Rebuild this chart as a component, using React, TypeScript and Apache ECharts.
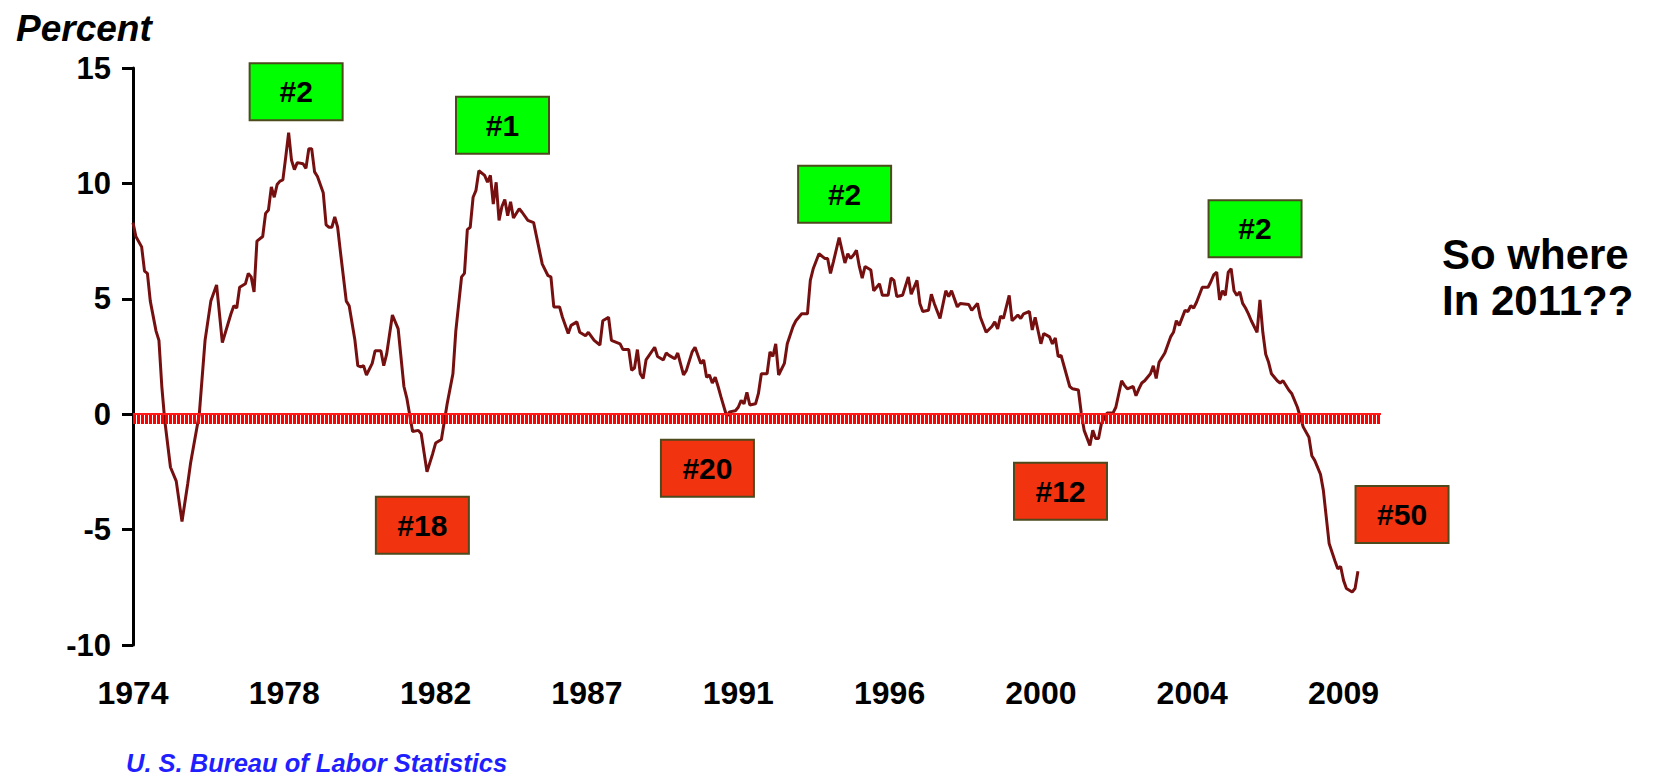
import React, { useEffect, useRef } from "react";
import * as echarts from "echarts";

// ---- axes ----
const START_YEAR = 1974; // month index 0 = Jan 1974
const X_MAX_MONTH = 433;
const X_TICK_STEP = 52.5; // months between year labels
const xTickLabels = ["1974", "1978", "1982", "1987", "1991", "1996", "2000", "2004", "2009"];
const yMin = -10;
const yMax = 15;
const yStep = 5;

// ---- series: [month index since Jan 1974, percent] ----
const growth1974to1985: [number, number][] = [
  [0, 8.3], [1, 7.7], [3, 7.25], [4, 6.2], [5, 6.1], [6, 4.9], [8, 3.6], [9, 3.2], [10, 1.2], [11, -0.25],
  [13, -2.3], [15, -2.9], [17, -4.65], [19, -3.0], [20, -2.1], [23, 0.0], [25, 3.2], [27, 4.9], [29, 5.6],
  [31, 3.1], [34, 4.35], [35, 4.7], [36, 4.6], [37, 5.5], [39, 5.65], [40, 6.1], [41, 5.95], [42, 5.3],
  [43, 7.5], [45, 7.7], [46, 8.7], [47, 8.85], [48, 9.85], [49, 9.4], [50, 9.95], [51, 10.1], [52, 10.15],
  [53, 11.15], [54, 12.2], [55, 11.0], [56, 10.6], [57, 10.9], [59, 10.85], [60, 10.65], [61, 11.5],
  [62, 11.5], [63, 10.5], [64, 10.3], [66, 9.6], [67, 8.2], [68, 8.1], [69, 8.1], [70, 8.55], [71, 8.1],
  [72, 7.0], [74, 4.9], [75, 4.7], [77, 3.2], [78, 2.1], [79, 2.05], [80, 2.1], [81, 1.7], [83, 2.2],
  [84, 2.75], [86, 2.75], [87, 2.1], [88, 2.6], [90, 4.3], [92, 3.7], [94, 1.2], [95, 0.7], [97, -0.75],
  [99, -0.7], [100, -0.85], [102, -2.5], [104, -1.7], [105, -1.25], [107, -1.1], [109, 0.45], [111, 1.75],
  [112, 3.6], [114, 5.95], [115, 6.1], [116, 8.0], [117, 8.1], [118, 9.4], [119, 9.7], [120, 10.55],
  [122, 10.35], [123, 10.05], [124, 10.35], [125, 9.1], [126, 10.05], [127, 8.4], [128, 9.0], [129, 9.3],
  [130, 8.6], [131, 9.2], [132, 8.5], [134, 8.9], [135, 8.75],
];

const growth1985to1999: [number, number][] = [
  [137, 8.4], [139, 8.3], [141, 7.1], [142, 6.5], [144, 6.0], [145, 5.95], [146, 4.65], [148, 4.65],
  [149, 4.2], [151, 3.5], [152, 3.85], [154, 4.0], [155, 3.55], [157, 3.4], [158, 3.55], [160, 3.2],
  [162, 3.0], [163, 4.05], [165, 4.2], [166, 3.2], [169, 3.05], [170, 2.8], [172, 2.8], [173, 1.9],
  [174, 2.0], [175, 2.8], [176, 1.75], [177, 1.55], [178, 2.35], [181, 2.9], [182, 2.5], [184, 2.35],
  [185, 2.65], [186, 2.55], [188, 2.4], [189, 2.65], [191, 1.7], [192, 1.9], [194, 2.7], [195, 2.9],
  [197, 2.2], [198, 2.35], [199, 1.6], [200, 1.7], [201, 1.35], [202, 1.6], [203, 1.2], [204, 0.75],
  [206, -0.1], [207, 0.1], [209, 0.15], [210, 0.3], [211, 0.6], [212, 0.45], [213, 0.95], [214, 0.4],
  [216, 0.45], [217, 0.9], [218, 1.75], [220, 1.75], [221, 2.7], [222, 2.5], [223, 3.05], [224, 1.7],
  [226, 2.2], [227, 3.05], [229, 3.8], [230, 4.05], [232, 4.35], [234, 4.35], [235, 5.8], [236, 6.3],
  [238, 6.95], [240, 6.75], [241, 6.75], [242, 6.1], [243, 6.6], [245, 7.65], [247, 6.55], [248, 6.95],
  [249, 6.75], [250, 6.9], [251, 7.1], [252, 6.4], [253, 5.9], [254, 6.4], [256, 6.25], [257, 5.35],
  [258, 5.5], [259, 5.65], [260, 5.15], [262, 5.15], [263, 5.9], [264, 5.8], [265, 5.1], [267, 5.15],
  [269, 5.95], [270, 5.2], [272, 5.8], [273, 4.8], [274, 4.45], [276, 4.5], [277, 5.2], [278, 4.8],
  [280, 4.15], [282, 5.35], [283, 5.1], [284, 5.35], [286, 4.65], [287, 4.8], [290, 4.75], [291, 4.5],
  [293, 4.8], [294, 4.2], [296, 3.55], [298, 3.8], [299, 4.0], [300, 3.7], [301, 4.25], [302, 4.15],
  [304, 5.15], [305, 4.05],
];

const growth1999to2009: [number, number][] = [
  [307, 4.3], [308, 4.15], [309, 4.35], [311, 4.45], [312, 3.65], [313, 4.2], [315, 3.05], [316, 3.5],
  [318, 3.35], [319, 3.05], [320, 3.3], [321, 2.5], [322, 2.55], [323, 2.1], [325, 1.2], [326, 1.1],
  [328, 1.05], [329, 0.05], [330, -0.7], [332, -1.35], [333, -0.7], [334, -1.05], [335, -1.05],
  [336, -0.4], [338, 0.05], [340, 0.05], [341, 0.3], [343, 1.45], [344, 1.25], [345, 1.1], [347, 1.2],
  [348, 0.8], [349, 1.1], [350, 1.35], [351, 1.45], [353, 1.75], [354, 2.1], [355, 1.55], [356, 2.25],
  [358, 2.65], [360, 3.35], [361, 3.55], [362, 4.05], [363, 3.85], [365, 4.5], [366, 4.45], [367, 4.7],
  [368, 4.6], [369, 4.85], [371, 5.5], [373, 5.5], [374, 5.75], [375, 6.05], [376, 6.15], [377, 4.95],
  [378, 5.35], [379, 5.15], [380, 6.15], [381, 6.3], [382, 5.35], [383, 5.15], [384, 5.3], [385, 4.8],
  [386, 4.6], [387, 4.35], [388, 4.05], [389, 3.8], [390, 3.55], [391, 4.95], [392, 3.55], [393, 2.6],
  [394, 2.25], [395, 1.75], [397, 1.45], [398, 1.35], [399, 1.45], [401, 1.05], [402, 0.9], [404, 0.3],
  [406, -0.55], [408, -1.0], [409, -1.8], [410, -2.0], [412, -2.6], [413, -3.3], [414, -4.45],
  [415, -5.6], [417, -6.35], [418, -6.7], [419, -6.6], [420, -7.2], [421, -7.55], [423, -7.7],
  [424, -7.55], [425, -6.8],
];

// ---- rank annotations (anchored in data space) ----
const rankLabels = ["#2", "#1", "#2", "#2", "#18", "#20", "#12", "#50"];
const rankMonths = [56.6, 128.2, 246.9, 389.3, 100.4, 199.3, 321.8, 440.3];
const rankValues = [13.97, 12.52, 9.53, 8.04, -4.81, -2.34, -3.34, -4.35];
const rankIsHigh = [true, true, true, true, false, false, false, false];

const FONT = "'Liberation Sans', Arial, Helvetica, sans-serif";
const GREEN = "#00ff00";
const RED = "#f2330f";
const BOX_BORDER = "#4d4a1e";
const LINE_COLOR = "#761010";

export default function App() {
  const ref = useRef<HTMLDivElement>(null);

  useEffect(() => {
    if (!ref.current) return;
    const chart = echarts.init(ref.current, null, { renderer: "svg" });
    const seriesData = [...growth1974to1985, ...growth1985to1999, ...growth1999to2009];

    const option: any = {
      animation: false,
      backgroundColor: "#ffffff",
      grid: { left: 133, right: 291, top: 68, bottom: 131, outerBoundsMode: "none" },
      xAxis: {
        type: "value",
        min: 0,
        max: X_MAX_MONTH,
        interval: X_TICK_STEP,
        axisLine: { show: false, onZero: false },
        axisTick: { show: false },
        splitLine: { show: false },
        axisLabel: {
          showMaxLabel: false,
          margin: 32,
          fontSize: 32,
          fontWeight: "bold",
          fontFamily: FONT,
          color: "#000",
          formatter: (v: number) => {
            const k = Math.round(v / X_TICK_STEP);
            if (Math.abs(v - k * X_TICK_STEP) > 0.01) return "";
            return xTickLabels[k] ?? "";
          },
        },
      },
      yAxis: {
        type: "value",
        min: yMin,
        max: yMax,
        interval: yStep,
        axisLine: { show: true, onZero: false, lineStyle: { color: "#000", width: 3 } },
        axisTick: { show: true, length: 11, lineStyle: { color: "#000", width: 3 } },
        splitLine: { show: false },
        axisLabel: { margin: 22, fontSize: 31, fontWeight: "bold", fontFamily: FONT, color: "#000" },
      },
      series: [
        {
          type: "line",
          name: "zero",
          data: [],
          silent: true,
          markLine: {
            silent: true,
            symbol: ["none", "none"],
            label: { show: false },
            emphasis: { disabled: true },
            data: [
              { yAxis: -0.24, lineStyle: { color: "#ff0000", width: 9, type: [3, 1], opacity: 1 } },
              { yAxis: 0, lineStyle: { color: "#ff1a1a", width: 2, type: "solid", opacity: 1 } },
            ],
          },
        },
        {
          type: "line",
          name: "growth",
          data: seriesData,
          symbol: "none",
          showSymbol: false,
          silent: true,
          lineStyle: { color: LINE_COLOR, width: 3 },
          z: 3,
        },
      ],
    };
    chart.setOption(option);

    const boxes = rankLabels.map((label, i) => {
      const [cx, cy] = chart.convertToPixel({ gridIndex: 0 }, [rankMonths[i], rankValues[i]]) as number[];
      return {
        type: "group",
        x: cx,
        y: cy,
        z: 10,
        children: [
          {
            type: "rect",
            shape: { x: -46.5, y: -28.5, width: 93, height: 57 },
            style: { fill: rankIsHigh[i] ? GREEN : RED, stroke: BOX_BORDER, lineWidth: 2 },
          },
          {
            type: "text",
            style: {
              text: label,
              x: 0,
              y: 0,
              align: "center",
              verticalAlign: "middle",
              fontSize: 30,
              fontWeight: "bold",
              fontFamily: FONT,
              fill: "#000",
            },
          },
        ],
      };
    });

    chart.setOption({
      graphic: [
        {
          type: "text",
          left: 16,
          top: 10,
          style: { text: "Percent", fontSize: 37, fontWeight: "bold", fontStyle: "italic", fontFamily: FONT, fill: "#000" },
        },
        {
          type: "text",
          x: 1442,
          y: 277,
          style: {
            text: "So where\nIn 2011??",
            fontSize: 42,
            lineHeight: 46,
            fontWeight: "bold",
            fontFamily: FONT,
            fill: "#000",
            align: "left",
            verticalAlign: "middle",
          },
        },
        {
          type: "text",
          x: 126,
          y: 763,
          style: {
            text: "U. S. Bureau of Labor Statistics",
            fontSize: 25.5,
            fontWeight: "bold",
            fontStyle: "italic",
            fontFamily: FONT,
            fill: "#1f1fff",
            align: "left",
            verticalAlign: "middle",
          },
        },
        ...boxes,
      ],
    });

    return () => chart.dispose();
  }, []);

  return <div ref={ref} style={{ position: "absolute", left: 0, top: 0, width: 1672, height: 776 }} />;
}
